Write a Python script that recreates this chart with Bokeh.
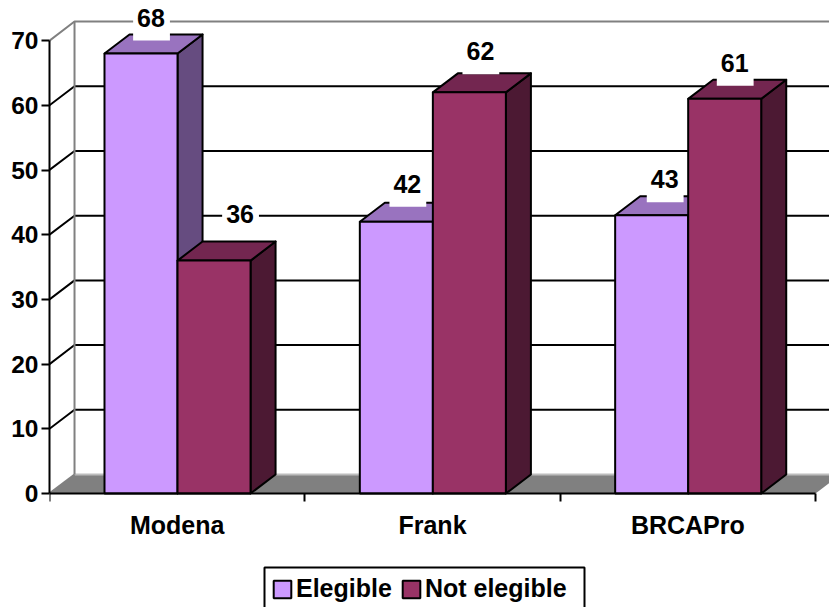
from bokeh.embed import file_html
from bokeh.resources import INLINE
from bokeh.core.properties import value
from bokeh.models import BoxAnnotation, ColumnDataSource, FixedTicker, Legend, LegendItem, Range1d
from bokeh.plotting import figure

categories = ["Modena", "Frank", "BRCAPro"]
elegible = [68, 42, 43]
not_elegible = [36, 62, 61]
y_ticks = [0, 10, 20, 30, 40, 50, 60, 70]

# Pixel nudges of the value labels relative to each bar's top face
elegible_label_dx = [-2, -1, 1]
elegible_label_dy = [-11, -13, -11]
not_elegible_label_dx = [14, -1, -2]
not_elegible_label_dy = [-22, -16, -11]

FONT = "Liberation Sans"
LIGHT, LIGHT_TOP, LIGHT_SIDE = "#CC99FF", "#9973BF", "#664C80"
DARK, DARK_TOP, DARK_SIDE = "#993366", "#732650", "#4C1933"
WALL = "#808080"

# Oblique depth of the pseudo-3D projection, in data units
DEPTH_X = 0.098
DEPTH_Y = 2.94
BAR_WIDTH = 0.286
BAR_INSET = 0.2154

p = figure(
    width=829, height=607, output_backend="svg", toolbar_location=None,
    x_range=Range1d(0, 780 / 255.33), y_range=Range1d(-114 / 6.47, 493 / 6.47),
    min_border_left=49, min_border_right=0, min_border_top=0, min_border_bottom=0,
    outline_line_color=None, background_fill_color="white", border_fill_color="white",
)
p.grid.visible = False

# Floor of the chart
top_y = max(y_ticks)
n = len(categories)
p.patch([0, DEPTH_X, n + DEPTH_X, n], [0, DEPTH_Y, DEPTH_Y, 0],
        fill_color=WALL, line_color=None)
p.line([DEPTH_X, n + DEPTH_X], [DEPTH_Y, DEPTH_Y], line_color="#BDBDBD", line_width=2)

# Gridlines on the side wall and the back wall
inner = [t for t in y_ticks if 0 < t < top_y]
p.multi_line([[0, DEPTH_X, n + DEPTH_X] for _ in inner],
             [[t, t + DEPTH_Y, t + DEPTH_Y] for t in inner],
             line_color="black", line_width=2)
p.line([0, DEPTH_X, n + DEPTH_X], [top_y, top_y + DEPTH_Y, top_y + DEPTH_Y],
       line_color=WALL, line_width=2)
p.line([DEPTH_X, DEPTH_X], [DEPTH_Y, top_y + DEPTH_Y], line_color=WALL, line_width=2)
p.line([0, DEPTH_X], [0, DEPTH_Y], line_color=WALL, line_width=2)


def bars(values, start, front, top, side):
    """Draw one series as oblique boxes: side and top faces, then the front."""
    lefts = [i + start for i in range(len(values))]
    rights = [x + BAR_WIDTH for x in lefts]
    p.patches([[r, r + DEPTH_X, r + DEPTH_X, r] for r in rights],
              [[0, DEPTH_Y, v + DEPTH_Y, v] for v in values],
              fill_color=side, line_color="black", line_width=2, line_join="round")
    p.patches([[l, l + DEPTH_X, r + DEPTH_X, r] for l, r in zip(lefts, rights)],
              [[v, v + DEPTH_Y, v + DEPTH_Y, v] for v in values],
              fill_color=top, line_color="black", line_width=2, line_join="round")
    return p.quad(left=lefts, right=rights, bottom=0, top=values,
                  fill_color=front, line_color="black", line_width=2)


light_bars = bars(elegible, BAR_INSET, LIGHT, LIGHT_TOP, LIGHT_SIDE)
dark_bars = bars(not_elegible, BAR_INSET + BAR_WIDTH, DARK, DARK_TOP, DARK_SIDE)

# Value labels on white plates
label_x, label_y, label_text, label_dx, label_dy = [], [], [], [], []
for start, series, dxs, dys in (
        (BAR_INSET, elegible, elegible_label_dx, elegible_label_dy),
        (BAR_INSET + BAR_WIDTH, not_elegible, not_elegible_label_dx, not_elegible_label_dy)):
    for i, v in enumerate(series):
        label_x.append(i + start + (BAR_WIDTH + DEPTH_X) / 2)
        label_y.append(v + DEPTH_Y)
        label_text.append(str(v))
        label_dx.append(dxs[i])
        label_dy.append(dys[i])
labels = ColumnDataSource(dict(x=label_x, y=label_y, text=label_text, dx=label_dx, dy=label_dy))
p.text("x", "y", text="text", source=labels, x_offset="dx", y_offset="dy",
       text_align="center", text_baseline="middle",
       text_font=value(FONT), text_font_style="bold", text_font_size="25px",
       text_color="black", background_fill_color="white",
       padding=(4, 5, 2, 14))

# Axes
p.yaxis.ticker = FixedTicker(ticks=y_ticks)
p.yaxis.bounds = (0, top_y)
p.yaxis.axis_line_width = 2
p.yaxis.axis_line_color = "black"
p.yaxis.major_tick_line_width = 2
p.yaxis.major_tick_line_color = "black"
p.yaxis.major_tick_in = 0
p.yaxis.major_tick_out = 8
p.yaxis.minor_tick_line_color = None
p.yaxis.major_label_text_font = FONT
p.yaxis.major_label_text_font_style = "bold"
p.yaxis.major_label_text_font_size = "24.5px"
p.yaxis.major_label_text_color = "black"
p.yaxis.major_label_standoff = 3

p.xaxis.fixed_location = 0
p.xaxis.ticker = FixedTicker(ticks=[i + 0.5 for i in range(n)],
                             minor_ticks=list(range(n + 1)))
p.xaxis.major_label_overrides = {i + 0.5: c for i, c in enumerate(categories)}
p.xaxis.bounds = (0, n)
p.xaxis.axis_line_width = 2
p.xaxis.axis_line_color = "black"
p.xaxis.major_tick_line_color = None
p.xaxis.major_tick_in = 0
p.xaxis.major_tick_out = 0
p.xaxis.minor_tick_line_color = "black"
p.xaxis.minor_tick_line_width = 2
p.xaxis.minor_tick_in = 0
p.xaxis.minor_tick_out = 8
p.xaxis.major_label_text_font = FONT
p.xaxis.major_label_text_font_style = "bold"
p.xaxis.major_label_text_font_size = "25px"
p.xaxis.major_label_text_color = "black"
p.xaxis.major_label_standoff = 9

# Legend frame, running past the lower page edge
p.add_layout(BoxAnnotation(left=215, right=535, top=40, bottom=-18,
                           left_units="screen", right_units="screen",
                           top_units="screen", bottom_units="screen",
                           fill_color="white", fill_alpha=1,
                           line_color="black", line_width=2, line_alpha=1))

legend = Legend(
    items=[LegendItem(label=value("Elegible"), renderers=[light_bars]),
           LegendItem(label=value("Not elegible"), renderers=[dark_bars])],
    orientation="horizontal", location=(222, 4),
    border_line_color=None, background_fill_alpha=0,
    padding=9, margin=0, spacing=8, label_standoff=3,
    glyph_width=22, glyph_height=22, label_height=28,
    label_text_font=FONT, label_text_font_style="bold", label_text_font_size="25px",
    label_text_color="black", label_text_baseline="middle",
)
p.add_layout(legend)

open("out.html", "w").write(file_html(p, INLINE))
